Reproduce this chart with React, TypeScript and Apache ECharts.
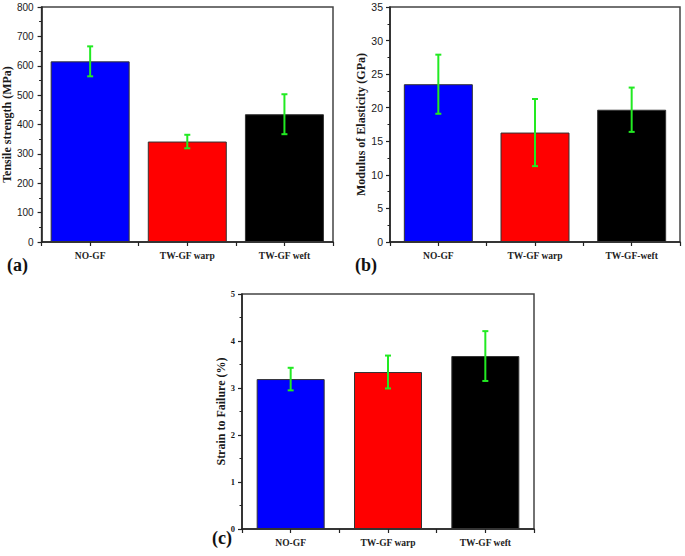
import React, { useEffect, useRef } from "react";
import * as echarts from "echarts";

const categoriesA = ["NO-GF", "TW-GF warp", "TW-GF weft"];
const categoriesB = ["NO-GF", "TW-GF warp", "TW-GF-weft"];
const categoriesC = ["NO-GF", "TW-GF warp", "TW-GF weft"];

const tensileMean = [615, 342, 435];
const tensileErr = [51, 23, 68];
const modulusMean = [23.5, 16.3, 19.7];
const modulusErr = [4.4, 5.0, 3.3];
const strainMean = [3.19, 3.34, 3.68];
const strainErr = [0.24, 0.35, 0.53];

const barColors = ["#0000FF", "#FF0000", "#000000"];
const errColor = "#22EA22";

const SERIF = "'Liberation Serif', 'Times New Roman', serif";
const SANS = "'Liberation Sans', Arial, sans-serif";

const grids = [
  { left: 41, top: 7, width: 292, height: 235 },
  { left: 390, top: 7, width: 290, height: 235 },
  { left: 242, top: 294, width: 292, height: 235 },
];

const panels = [
  { cats: categoriesA, mean: tensileMean, err: tensileErr, max: 800, interval: 100, name: "Tensile strength (MPa)", nameGap: 27, barWidth: 79, tickFont: SANS, tickSize: 10, tickWeight: "normal", labelMargin: 8 },
  { cats: categoriesB, mean: modulusMean, err: modulusErr, max: 35, interval: 5, name: "Modulus of Elasticity (GPa)", nameGap: 21, barWidth: 69, tickFont: SANS, tickSize: 10.5, tickWeight: "normal", labelMargin: 7 },
  { cats: categoriesC, mean: strainMean, err: strainErr, max: 5, interval: 1, name: "Strain to Failure (%)", nameGap: 15, barWidth: 68, tickFont: SERIF, tickSize: 8.5, tickWeight: "bold", labelMargin: 7 },
];

export default function App() {
  const ref = useRef<HTMLDivElement>(null);
  useEffect(() => {
    document.body.style.margin = "0";
    const chart = echarts.init(ref.current!, null, { renderer: "svg" });
    const xAxis: any[] = [];
    const yAxis: any[] = [];
    const series: any[] = [];
    panels.forEach((p, i) => {
      xAxis.push({
        type: "category",
        gridIndex: i,
        data: p.cats,
        position: "bottom",
        axisLine: { lineStyle: { color: "#222", width: 1.5 } },
        axisTick: { show: true, inside: false, length: 4, lineStyle: { color: "#222", width: 1.2 } },
        axisLabel: { fontFamily: SERIF, fontWeight: "bold", fontSize: 9.5, color: "#222", margin: 9 },
        splitLine: { show: false },
      });
      xAxis.push({
        type: "category",
        gridIndex: i,
        data: p.cats,
        position: "bottom",
        axisLine: { show: false },
        axisTick: { show: true, alignWithLabel: true, length: 4, lineStyle: { color: "#222", width: 1.2 } },
        axisLabel: { show: false },
        splitLine: { show: false },
      });
      yAxis.push({
        type: "value",
        gridIndex: i,
        min: 0,
        max: p.max,
        interval: p.interval,
        name: p.name,
        nameLocation: "middle",
        nameGap: p.nameGap,
        nameTextStyle: { fontFamily: SERIF, fontWeight: "bold", fontSize: 12, color: "#1a1a1a" },
        axisLine: { show: true, lineStyle: { color: "#222", width: 1.5 } },
        axisTick: { show: true, length: 4, lineStyle: { color: "#222", width: 1.2 } },
        minorTick: { show: true, splitNumber: 2, length: 2.5, lineStyle: { color: "#222", width: 1 } },
        axisLabel: { fontFamily: p.tickFont, fontSize: p.tickSize, fontWeight: p.tickWeight, color: "#1a1a1a", margin: p.labelMargin },
        splitLine: { show: false },
      });
      series.push({
        type: "bar",
        xAxisIndex: i * 2,
        yAxisIndex: i,
        barWidth: p.barWidth,
        data: p.mean.map((v, k) => ({ value: v, itemStyle: { color: barColors[k], borderColor: "#333", borderWidth: 1 } })),
        z: 2,
      });
      series.push({
        type: "custom",
        xAxisIndex: i * 2,
        yAxisIndex: i,
        z: 5,
        data: p.mean.map((v, k) => [k, v - p.err[k], v + p.err[k]]),
        encode: { x: 0, y: [1, 2] },
        renderItem: (params: any, api: any) => {
          const x = api.value(0);
          const hi = api.coord([x, api.value(2)]);
          const lo = api.coord([x, api.value(1)]);
          const hw = 3;
          const st = { stroke: errColor, lineWidth: 2, fill: null };
          return {
            type: "group",
            children: [
              { type: "line", shape: { x1: hi[0], y1: hi[1], x2: lo[0], y2: lo[1] }, style: st },
              { type: "line", shape: { x1: hi[0] - hw, y1: hi[1], x2: hi[0] + hw, y2: hi[1] }, style: st },
              { type: "line", shape: { x1: lo[0] - hw, y1: lo[1], x2: lo[0] + hw, y2: lo[1] }, style: st },
            ],
          };
        },
      });
    });
    chart.setOption({
      animation: false,
      backgroundColor: "#fff",
      grid: grids.map((g) => ({ ...g, show: true, borderColor: "#444", borderWidth: 1.5, backgroundColor: "transparent", containLabel: false })),
      xAxis,
      yAxis,
      series,
      graphic: [
        { type: "text", left: 7, top: 256, style: { text: "(a)", font: `bold 18px ${SERIF}`, fill: "#111" } },
        { type: "text", left: 355, top: 256, style: { text: "(b)", font: `bold 18px ${SERIF}`, fill: "#111" } },
        { type: "text", left: 212, top: 529, style: { text: "(c)", font: `bold 18px ${SERIF}`, fill: "#111" } },
      ],
    });
    return () => chart.dispose();
  }, []);
  return <div ref={ref} style={{ width: 685, height: 556 }} />;
}
